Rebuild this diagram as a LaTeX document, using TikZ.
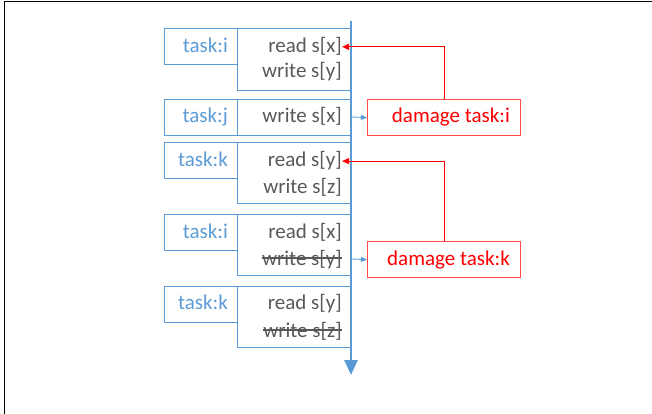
\documentclass[tikz,border=0pt]{standalone}
\usepackage{fontspec}
\setmainfont{Carlito}
\usetikzlibrary{arrows.meta}
\definecolor{tlblue}{HTML}{5B9BD5}
\definecolor{opgray}{HTML}{595959}
\definecolor{dmgred}{HTML}{FF0000}
\definecolor{dmgedge}{HTML}{FF4B4B}

\begin{document}
\begin{tikzpicture}[x=1pt, y=-1pt,
  every node/.style={font=\fontsize{21}{25}\selectfont},
  taskbox/.style={draw=tlblue, line width=1.2pt, anchor=north west, inner sep=0pt,
                  minimum width=73pt, minimum height=36pt},
  opsbox/.style={draw=tlblue, line width=1.2pt, anchor=north west, inner sep=0pt,
                 minimum width=113pt},
  dmgbox/.style={draw=dmgedge, line width=1.2pt, anchor=north west, inner sep=0pt,
                 minimum width=153pt, minimum height=36pt},
  tasklabel/.style={text=tlblue, anchor=base east, inner sep=0pt},
  oplabel/.style={text=opgray, anchor=base east, inner sep=0pt},
  dmglabel/.style={text=dmgred, anchor=base east, inner sep=0pt},
  timeline/.style={draw=tlblue, line width=2.6pt, -{Triangle[width=13pt,length=15pt]}},
  signal/.style={draw=tlblue, line width=0.9pt, -{Triangle[width=5pt,length=6pt]}},
  damage/.style={draw=dmgred, line width=1.2pt, -{Triangle[width=6pt,length=7pt]}},
  strike/.style={draw=opgray, line width=1.1pt}
]
\useasboundingbox (0,0) rectangle (652,414);

% outer frame (top and left edges)
\coordinate (fbl) at (4,414);
\coordinate (ftl) at (4,2);
\coordinate (ftr) at (652,2);
\draw[black, line width=1pt] (fbl) -- (ftl) -- (ftr);

% task boxes and their operations
\node[taskbox] (b1) at (164,28) {};
\node[opsbox, minimum height=62pt] (o1) at (237,28) {};
\node[tasklabel] (t1) at (228,53) {task:i};
\node[oplabel] (r1) at (342,53) {read s[x]};
\node[oplabel] (w1) at (342,78) {write s[y]};

\node[taskbox] (b2) at (164,99) {};
\node[opsbox, minimum height=36pt] (o2) at (237,99) {};
\node[tasklabel] (t2) at (228,123) {task:j};
\node[oplabel] (w2) at (342,123) {write s[x]};

\node[taskbox] (b3) at (164,142) {};
\node[opsbox, minimum height=61pt] (o3) at (237,142) {};
\node[tasklabel] (t3) at (228,167) {task:k};
\node[oplabel] (r3) at (342,167) {read s[y]};
\node[oplabel] (w3) at (342,193) {write s[z]};

\node[taskbox] (b4) at (164,214) {};
\node[opsbox, minimum height=61pt] (o4) at (237,214) {};
\node[tasklabel] (t4) at (228,238) {task:i};
\node[oplabel] (r4) at (342,238) {read s[x]};
\node[oplabel] (w4) at (342,265) {write s[y]};

\node[taskbox] (b5) at (164,286) {};
\node[opsbox, minimum height=61pt] (o5) at (237,286) {};
\node[tasklabel] (t5) at (228,309) {task:k};
\node[oplabel] (r5) at (342,309) {read s[y]};
\node[oplabel] (w5) at (342,337) {write s[z]};

% cancelled writes
\draw[strike] ([yshift=7pt]w4.base west) -- ([yshift=7pt]w4.base east);
\draw[strike] ([yshift=7pt]w5.base west) -- ([yshift=7pt]w5.base east);

% time axis
\coordinate (tltop) at (351,21);
\coordinate (tlend) at (351,375);
\draw[timeline] (tltop) -- (tlend);

% damage boxes
\node[dmgbox] (di) at (367,99) {};
\node[dmglabel] at (510,123) {damage task:i};
\node[dmgbox] (dk) at (367,241) {};
\node[dmglabel] at (510,265) {damage task:k};

% signals from the time axis
\coordinate (sj) at (352,117);
\coordinate (sk) at (352,259);
\draw[signal] (sj) -- (di.west);
\draw[signal] (sk) -- (dk.west);

% damage back to the earlier reads
\draw[damage] (di.north) |- (r1.east);
\draw[damage] (dk.north) |- (r3.east);
\end{tikzpicture}
\end{document}
